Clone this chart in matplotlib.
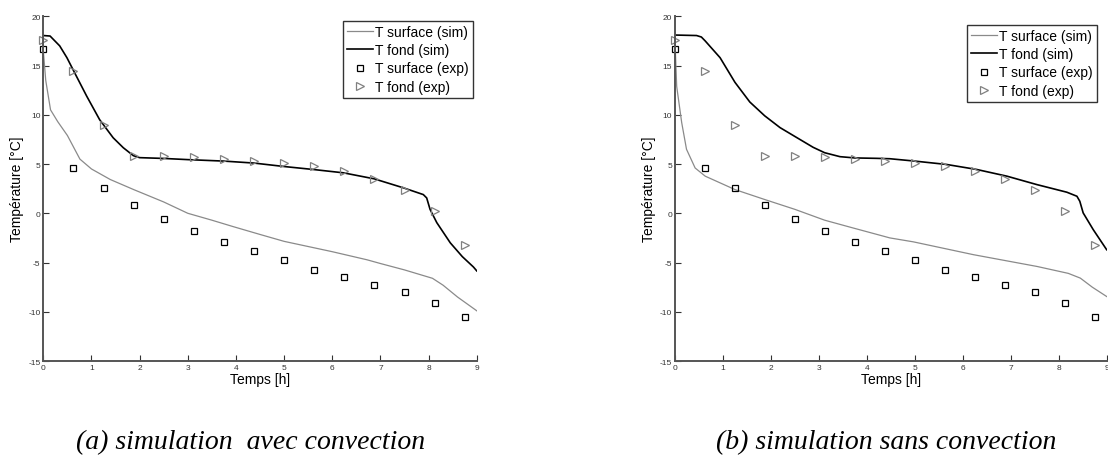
import matplotlib
matplotlib.use("Agg")
import matplotlib.pyplot as plt

plt.rcParams["font.family"] = ["Liberation Sans", "DejaVu Sans"]
plt.rcParams["axes.unicode_minus"] = False

# Experimental measurements (same for both panels)
t_exp = [0, 0.625, 1.25, 1.875, 2.5, 3.125, 3.75, 4.375, 5.0, 5.625, 6.25, 6.875, 7.5, 8.125, 8.75]
T_surface_exp = [16.67, 4.62, 2.58, 0.88, -0.54, -1.83, -2.92, -3.87, -4.72, -5.8, -6.45, -7.26, -7.97, -9.06, -10.49]
T_fond_exp = [17.63, 14.47, 8.95, 5.77, 5.77, 5.73, 5.54, 5.3, 5.13, 4.79, 4.31, 3.53, 2.41, 0.24, -3.19]

# (a) simulation avec convection
t_fond_a = [0, 0.14, 0.34, 0.49, 0.63, 0.9, 1.17, 1.45, 1.66, 1.87, 2.0, 2.5, 3.0, 3.75, 4.375, 5.0,
            5.6, 6.23, 6.87, 7.48, 7.89, 7.96, 8.03, 8.17, 8.45, 8.7, 8.93, 9.0]
T_fond_a = [18.05, 18.0, 17.0, 15.8, 14.46, 11.9, 9.5, 7.67, 6.66, 5.85, 5.65, 5.57, 5.45, 5.3, 5.1, 4.75,
            4.45, 4.11, 3.5, 2.58, 1.9, 1.56, 0.4, -0.95, -3.0, -4.4, -5.45, -5.85]
t_surf_a = [0, 0.05, 0.15, 0.3, 0.5, 0.76, 1.0, 1.39, 1.875, 2.5, 3.0, 3.5, 3.94, 4.5, 5.0, 6.0, 6.72,
            7.0, 7.5, 8.08, 8.3, 8.6, 9.0]
T_surf_a = [16.5, 13.5, 10.5, 9.3, 7.9, 5.5, 4.5, 3.43, 2.41, 1.15, 0.0, -0.7, -1.35, -2.15, -2.85, -3.9, -4.72,
            -5.1, -5.75, -6.6, -7.3, -8.5, -9.9]

# (b) simulation sans convection
t_fond_b = [0, 0.45, 0.55, 0.63, 0.94, 1.25, 1.56, 1.87, 2.19, 2.5, 2.88, 3.12, 3.44, 3.75, 4.2, 4.48, 5.0,
            5.66, 6.29, 6.92, 7.54, 8.17, 8.38, 8.44, 8.51, 8.72, 9.0]
T_fond_b = [18.1, 18.05, 17.9, 17.5, 15.8, 13.3, 11.3, 9.9, 8.7, 7.8, 6.7, 6.15, 5.75, 5.62, 5.58, 5.54, 5.3,
            4.96, 4.45, 3.77, 2.92, 2.14, 1.73, 1.22, 0.04, -1.66, -3.7]
t_surf_b = [0, 0.035, 0.14, 0.24, 0.42, 0.63, 1.25, 1.87, 2.5, 3.12, 3.72, 4.48, 4.97, 6.22, 7.55, 8.2,
            8.45, 8.7, 9.0]
T_surf_b = [17.5, 12.9, 9.2, 6.5, 4.6, 3.77, 2.41, 1.4, 0.4, -0.7, -1.5, -2.5, -2.9, -4.2, -5.4, -6.1,
            -6.58, -7.5, -8.45]

x_ticks = list(range(0, 10))
y_ticks = [-15, -10, -5, 0, 5, 10, 15, 20]

panels = [
    dict(rect=[0.0391, 0.2061, 0.3912, 0.7559], t_fond=t_fond_a, T_fond=T_fond_a,
         t_surf=t_surf_a, T_surf=T_surf_a, legend_anchor=(473 / 1108, 1 - 22 / 456),
         caption="(a) simulation  avec convection", caption_x=251 / 1108),
    dict(rect=[0.6092, 0.2061, 0.3896, 0.7559], t_fond=t_fond_b, T_fond=T_fond_b,
         t_surf=t_surf_b, T_surf=T_surf_b, legend_anchor=(1097 / 1108, 1 - 26 / 456),
         caption="(b) simulation sans convection", caption_x=886 / 1108),
]

fig = plt.figure(figsize=(11.08, 4.56), dpi=100)

for p in panels:
    ax = fig.add_axes(p["rect"])

    ax.plot(p["t_surf"], p["T_surf"], color="#8a8a8a", linewidth=0.9, label="T surface (sim)")
    ax.plot(p["t_fond"], p["T_fond"], color="black", linewidth=1.2, label="T fond (sim)")
    ax.plot(t_exp, T_surface_exp, linestyle="none", marker="s", markersize=4.5, clip_on=False,
            markerfacecolor="none", markeredgecolor="black", markeredgewidth=0.9, label="T surface (exp)")
    ax.plot(t_exp, T_fond_exp, linestyle="none", marker=">", markersize=5.5, clip_on=False,
            markerfacecolor="none", markeredgecolor="#808080", markeredgewidth=0.9, label="T fond (exp)")

    ax.set_xlim(0, 9)
    ax.set_ylim(-15, 20)
    ax.set_xticks(x_ticks)
    ax.set_yticks(y_ticks)
    ax.tick_params(direction="in", length=4, width=0.8, labelsize=6, pad=2, colors="#333333")

    # Matlab-like "box off"
    ax.spines["top"].set_visible(False)
    ax.spines["right"].set_visible(False)
    for side in ["left", "bottom"]:
        ax.spines[side].set_color("#555555")
        ax.spines[side].set_linewidth(1.4)

    ax.set_xlabel("Temps [h]", fontsize=10, labelpad=1)
    ax.set_ylabel("Température [°C]", fontsize=10, labelpad=3)

    leg = ax.legend(loc="upper right", bbox_to_anchor=p["legend_anchor"], bbox_transform=fig.transFigure,
                    fontsize=10, frameon=True, fancybox=False, handlelength=1.9, handletextpad=0.15,
                    labelspacing=0.3, borderpad=0.3, borderaxespad=0)
    leg.get_frame().set_edgecolor("black")
    leg.get_frame().set_linewidth(1.0)

    fig.text(p["caption_x"], 1 - 443 / 456, p["caption"], ha="center", va="center",
             fontsize=20, style="italic", family=["Liberation Serif", "DejaVu Serif"])

plt.savefig("out.png", dpi=100)
